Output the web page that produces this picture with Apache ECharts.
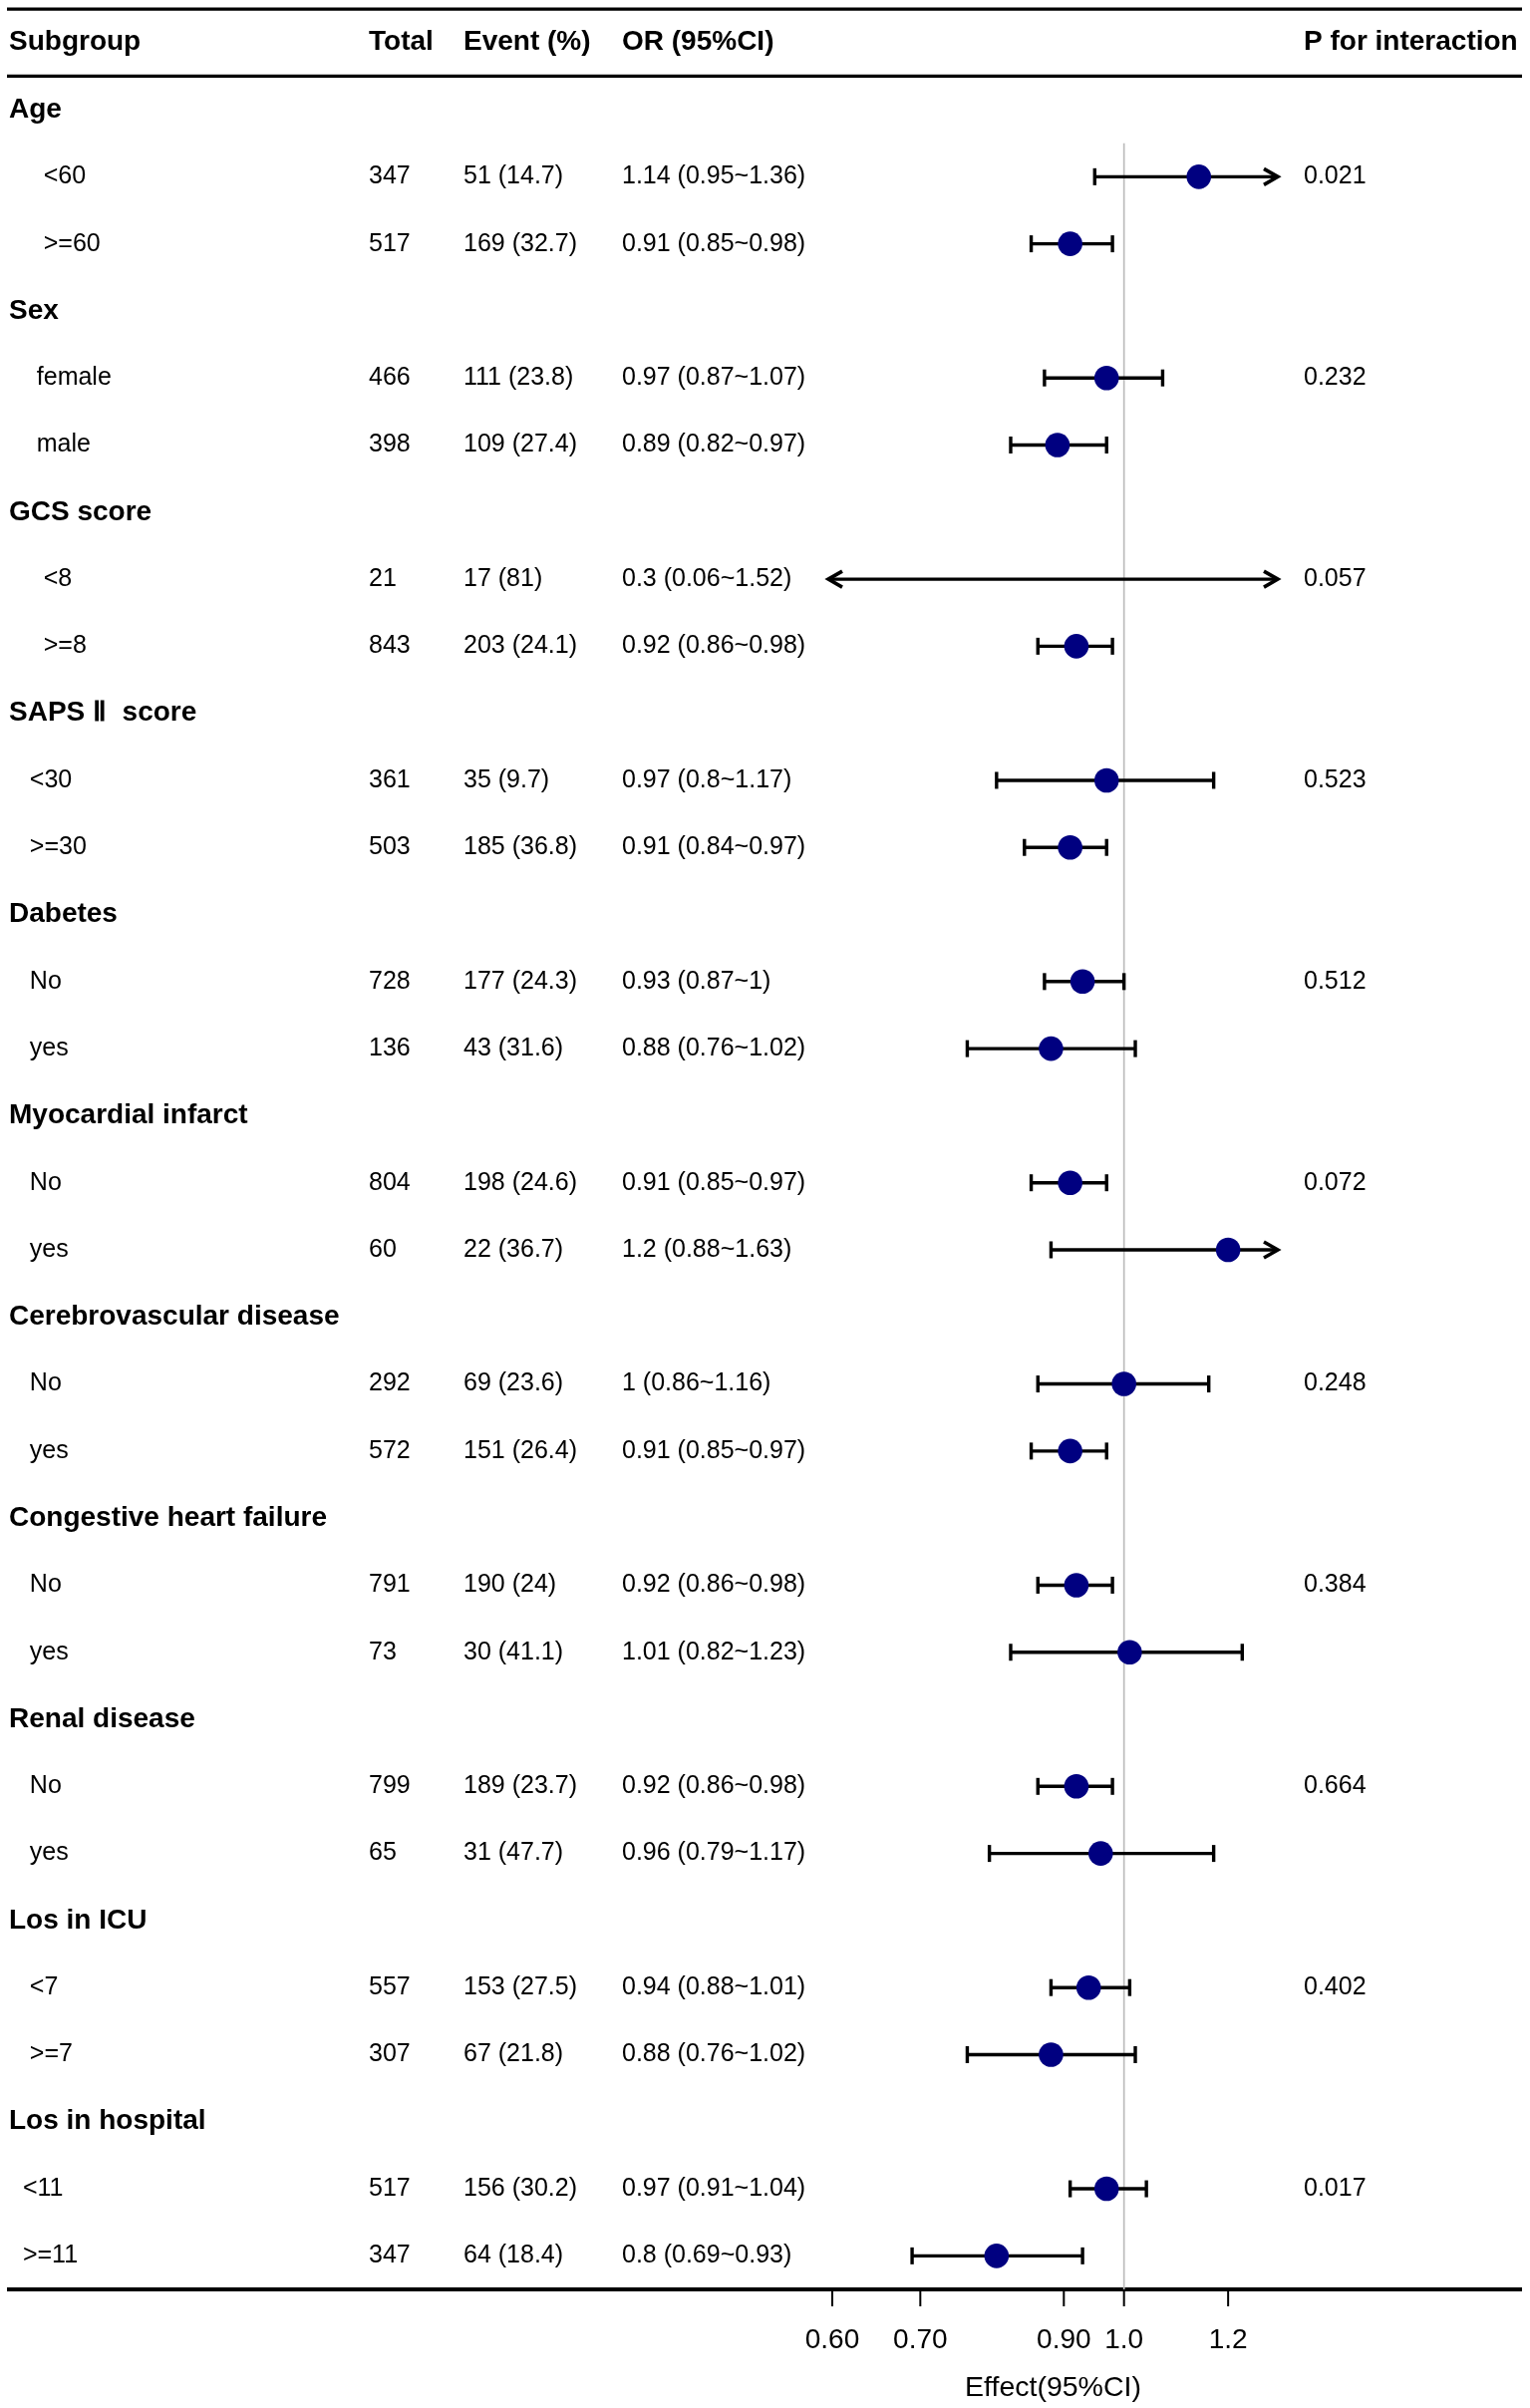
<!DOCTYPE html>
<html>
<head>
<meta charset="utf-8">
<script src="https://cdn.jsdelivr.net/npm/echarts@6/dist/echarts.min.js"></script>
<style>
html,body{margin:0;padding:0;background:#ffffff;}
#chart{width:1535px;height:2416px;}
</style>
</head>
<body>
<div id="chart"></div>
<script>
// ---------------- data ----------------
const headers = ['Subgroup', 'Total', 'Event (%)', 'OR (95%CI)', 'P for interaction'];
const groups = ['Age', 'Sex', 'GCS score', 'SAPS \u2161  score', 'Dabetes', 'Myocardial infarct',
  'Cerebrovascular disease', 'Congestive heart failure', 'Renal disease', 'Los in ICU', 'Los in hospital'];
const subLabels = ['     <60', '     >=60', '    female', '    male', '     <8', '     >=8',
  '   <30', '   >=30', '   No', '   yes', '   No', '   yes', '   No', '   yes', '   No', '   yes',
  '   No', '   yes', '   <7', '   >=7', '  <11', '  >=11'];
const totals = [347, 517, 466, 398, 21, 843, 361, 503, 728, 136, 804, 60, 292, 572, 791, 73, 799, 65, 557, 307, 517, 347];
const events = ['51 (14.7)', '169 (32.7)', '111 (23.8)', '109 (27.4)', '17 (81)', '203 (24.1)', '35 (9.7)', '185 (36.8)',
  '177 (24.3)', '43 (31.6)', '198 (24.6)', '22 (36.7)', '69 (23.6)', '151 (26.4)', '190 (24)', '30 (41.1)',
  '189 (23.7)', '31 (47.7)', '153 (27.5)', '67 (21.8)', '156 (30.2)', '64 (18.4)'];
const orEst  = [1.14, 0.91, 0.97, 0.89, 0.3, 0.92, 0.97, 0.91, 0.93, 0.88, 0.91, 1.2, 1, 0.91, 0.92, 1.01, 0.92, 0.96, 0.94, 0.88, 0.97, 0.8];
const orLow  = [0.95, 0.85, 0.87, 0.82, 0.06, 0.86, 0.8, 0.84, 0.87, 0.76, 0.85, 0.88, 0.86, 0.85, 0.86, 0.82, 0.86, 0.79, 0.88, 0.76, 0.91, 0.69];
const orHigh = [1.36, 0.98, 1.07, 0.97, 1.52, 0.98, 1.17, 0.97, 1, 1.02, 0.97, 1.63, 1.16, 0.97, 0.98, 1.23, 0.98, 1.17, 1.01, 1.02, 1.04, 0.93];
const pInteraction = ['0.021', '0.232', '0.057', '0.523', '0.512', '0.072', '0.248', '0.384', '0.664', '0.402', '0.017'];
const tickValues = [0.6, 0.7, 0.9, 1.0, 1.2];
const tickLabels = ['0.60', '0.70', '0.90', '1.0', '1.2'];
const axisName = 'Effect(95%CI)';
const refValue = 1;

// ---------------- layout / style ----------------
const X_MIN = 0.6, X_MAX = 1.3;
const FONT = '"Liberation Sans", Arial, Helvetica, sans-serif';
const colX = [9, 370, 465, 624, 1308];
const NAVY = '#000080';

// build table rows
const rows = [{ kind: 'header' }];
groups.forEach(function (g, gi) {
  rows.push({ kind: 'group', label: g });
  for (let k = 0; k < 2; k++) {
    const i = gi * 2 + k;
    rows.push({
      kind: 'sub', idx: i,
      cells: [subLabels[i], String(totals[i]), events[i],
        orEst[i] + ' (' + orLow[i] + '~' + orHigh[i] + ')', k === 0 ? pInteraction[gi] : '']
    });
  }
});
const nRows = rows.length; // 34
const lastRow = nRows - 1;

const forestData = [];
rows.forEach(function (r, ri) {
  if (r.kind === 'sub') forestData.push([orEst[r.idx], ri, orLow[r.idx], orHigh[r.idx]]);
});

function txt(x, y, s, bold, size, align) {
  return {
    type: 'text',
    style: {
      x: x, y: y, text: s, fill: '#000',
      font: (bold ? 'bold ' : '') + size + 'px ' + FONT,
      align: align || 'left', verticalAlign: 'middle'
    }
  };
}

const chart = echarts.init(document.getElementById('chart'), null, { renderer: 'canvas' });

chart.setOption({
  backgroundColor: '#ffffff',
  animation: false,
  grid: { left: 835, right: 257, top: 9.1, bottom: 103.4, containLabel: false },
  xAxis: {
    type: 'log', logBase: 10, min: X_MIN, max: X_MAX,
    axisLine: { show: false }, axisTick: { show: false }, axisLabel: { show: false },
    splitLine: { show: false },
    name: axisName, nameLocation: 'middle', nameGap: 85,
    nameTextStyle: { fontSize: 28.5, color: '#000', fontFamily: FONT }
  },
  yAxis: {
    type: 'value', min: -0.5, max: nRows - 0.5, inverse: true, show: false
  },
  series: [
    // horizontal rules
    {
      type: 'custom', silent: true, z: 1,
      data: [[refValue, -0.5, 3.3], [refValue, 0.5, 3.3], [refValue, lastRow + 0.5, 4]],
      renderItem: function (params, api) {
        const y = api.coord([api.value(0), api.value(1)])[1];
        return { type: 'line', shape: { x1: 7, y1: y, x2: 1527, y2: y }, style: { stroke: '#000', lineWidth: api.value(2) } };
      }
    },
    // reference line
    {
      type: 'custom', silent: true, z: 2,
      data: [[refValue, 1.5, lastRow + 0.5]],
      renderItem: function (params, api) {
        const a = api.coord([api.value(0), api.value(1)]);
        const b = api.coord([api.value(0), api.value(2)]);
        return { type: 'line', shape: { x1: a[0], y1: a[1], x2: b[0], y2: b[1] }, style: { stroke: '#bcbcbc', lineWidth: 1.7 } };
      }
    },
    // table text
    {
      type: 'custom', silent: true, z: 5,
      data: rows.map(function (r, ri) { return [refValue, ri]; }),
      renderItem: function (params, api) {
        const ri = api.value(1);
        const y = api.coord([refValue, ri])[1];
        const r = rows[ri];
        const ch = [];
        if (r.kind === 'header') {
          headers.forEach(function (h, c) { ch.push(txt(colX[c], y, h, true, 28)); });
        } else if (r.kind === 'group') {
          ch.push(txt(colX[0], y, r.label, true, 28));
        } else {
          r.cells.forEach(function (s, c) { if (s) ch.push(txt(colX[c], y, s, false, 25)); });
        }
        return { type: 'group', children: ch };
      }
    },
    // forest marks
    {
      type: 'custom', silent: true, z: 10,
      data: forestData,
      renderItem: function (params, api) {
        const est = api.value(0), row = api.value(1), lo = api.value(2), hi = api.value(3);
        const loC = Math.max(lo, X_MIN), hiC = Math.min(hi, X_MAX);
        const pL = api.coord([loC, row]), pH = api.coord([hiC, row]);
        const y = pL[1];
        let xL = pL[0], xR = pH[0];
        if (lo < X_MIN) xL -= 4;
        if (hi > X_MAX) xR += 4;
        const ch = [];
        const st = { stroke: '#000', lineWidth: 3.4, lineCap: 'butt' };
        const ast = { stroke: '#000', lineWidth: 3.6, fill: null, lineJoin: 'miter', lineCap: 'butt' };
        ch.push({ type: 'line', shape: { x1: xL, y1: y, x2: xR, y2: y }, style: st });
        if (lo < X_MIN) {
          ch.push({ type: 'polyline', shape: { points: [[xL + 14, y - 8], [xL, y], [xL + 14, y + 8]] }, style: ast });
        } else {
          ch.push({ type: 'line', shape: { x1: xL, y1: y - 8.5, x2: xL, y2: y + 8.5 }, style: st });
        }
        if (hi > X_MAX) {
          ch.push({ type: 'polyline', shape: { points: [[xR - 14, y - 8], [xR, y], [xR - 14, y + 8]] }, style: ast });
        } else {
          ch.push({ type: 'line', shape: { x1: xR, y1: y - 8.5, x2: xR, y2: y + 8.5 }, style: st });
        }
        if (est >= X_MIN && est <= X_MAX) {
          const pe = api.coord([est, row]);
          ch.push({ type: 'circle', shape: { cx: pe[0], cy: y, r: 12.3 }, style: { fill: NAVY } });
        }
        return { type: 'group', children: ch };
      }
    },
    // axis ticks + labels
    {
      type: 'custom', silent: true, z: 6,
      data: tickValues.map(function (v, i) { return [v, lastRow + 0.5, i]; }),
      renderItem: function (params, api) {
        const p = api.coord([api.value(0), api.value(1)]);
        const i = api.value(2);
        return {
          type: 'group', children: [
            { type: 'line', shape: { x1: p[0], y1: p[1], x2: p[0], y2: p[1] + 17 }, style: { stroke: '#000', lineWidth: 2 } },
            txt(p[0], p[1] + 51, tickLabels[i], false, 28, 'center')
          ]
        };
      }
    }
  ]
});
</script>
</body>
</html>
